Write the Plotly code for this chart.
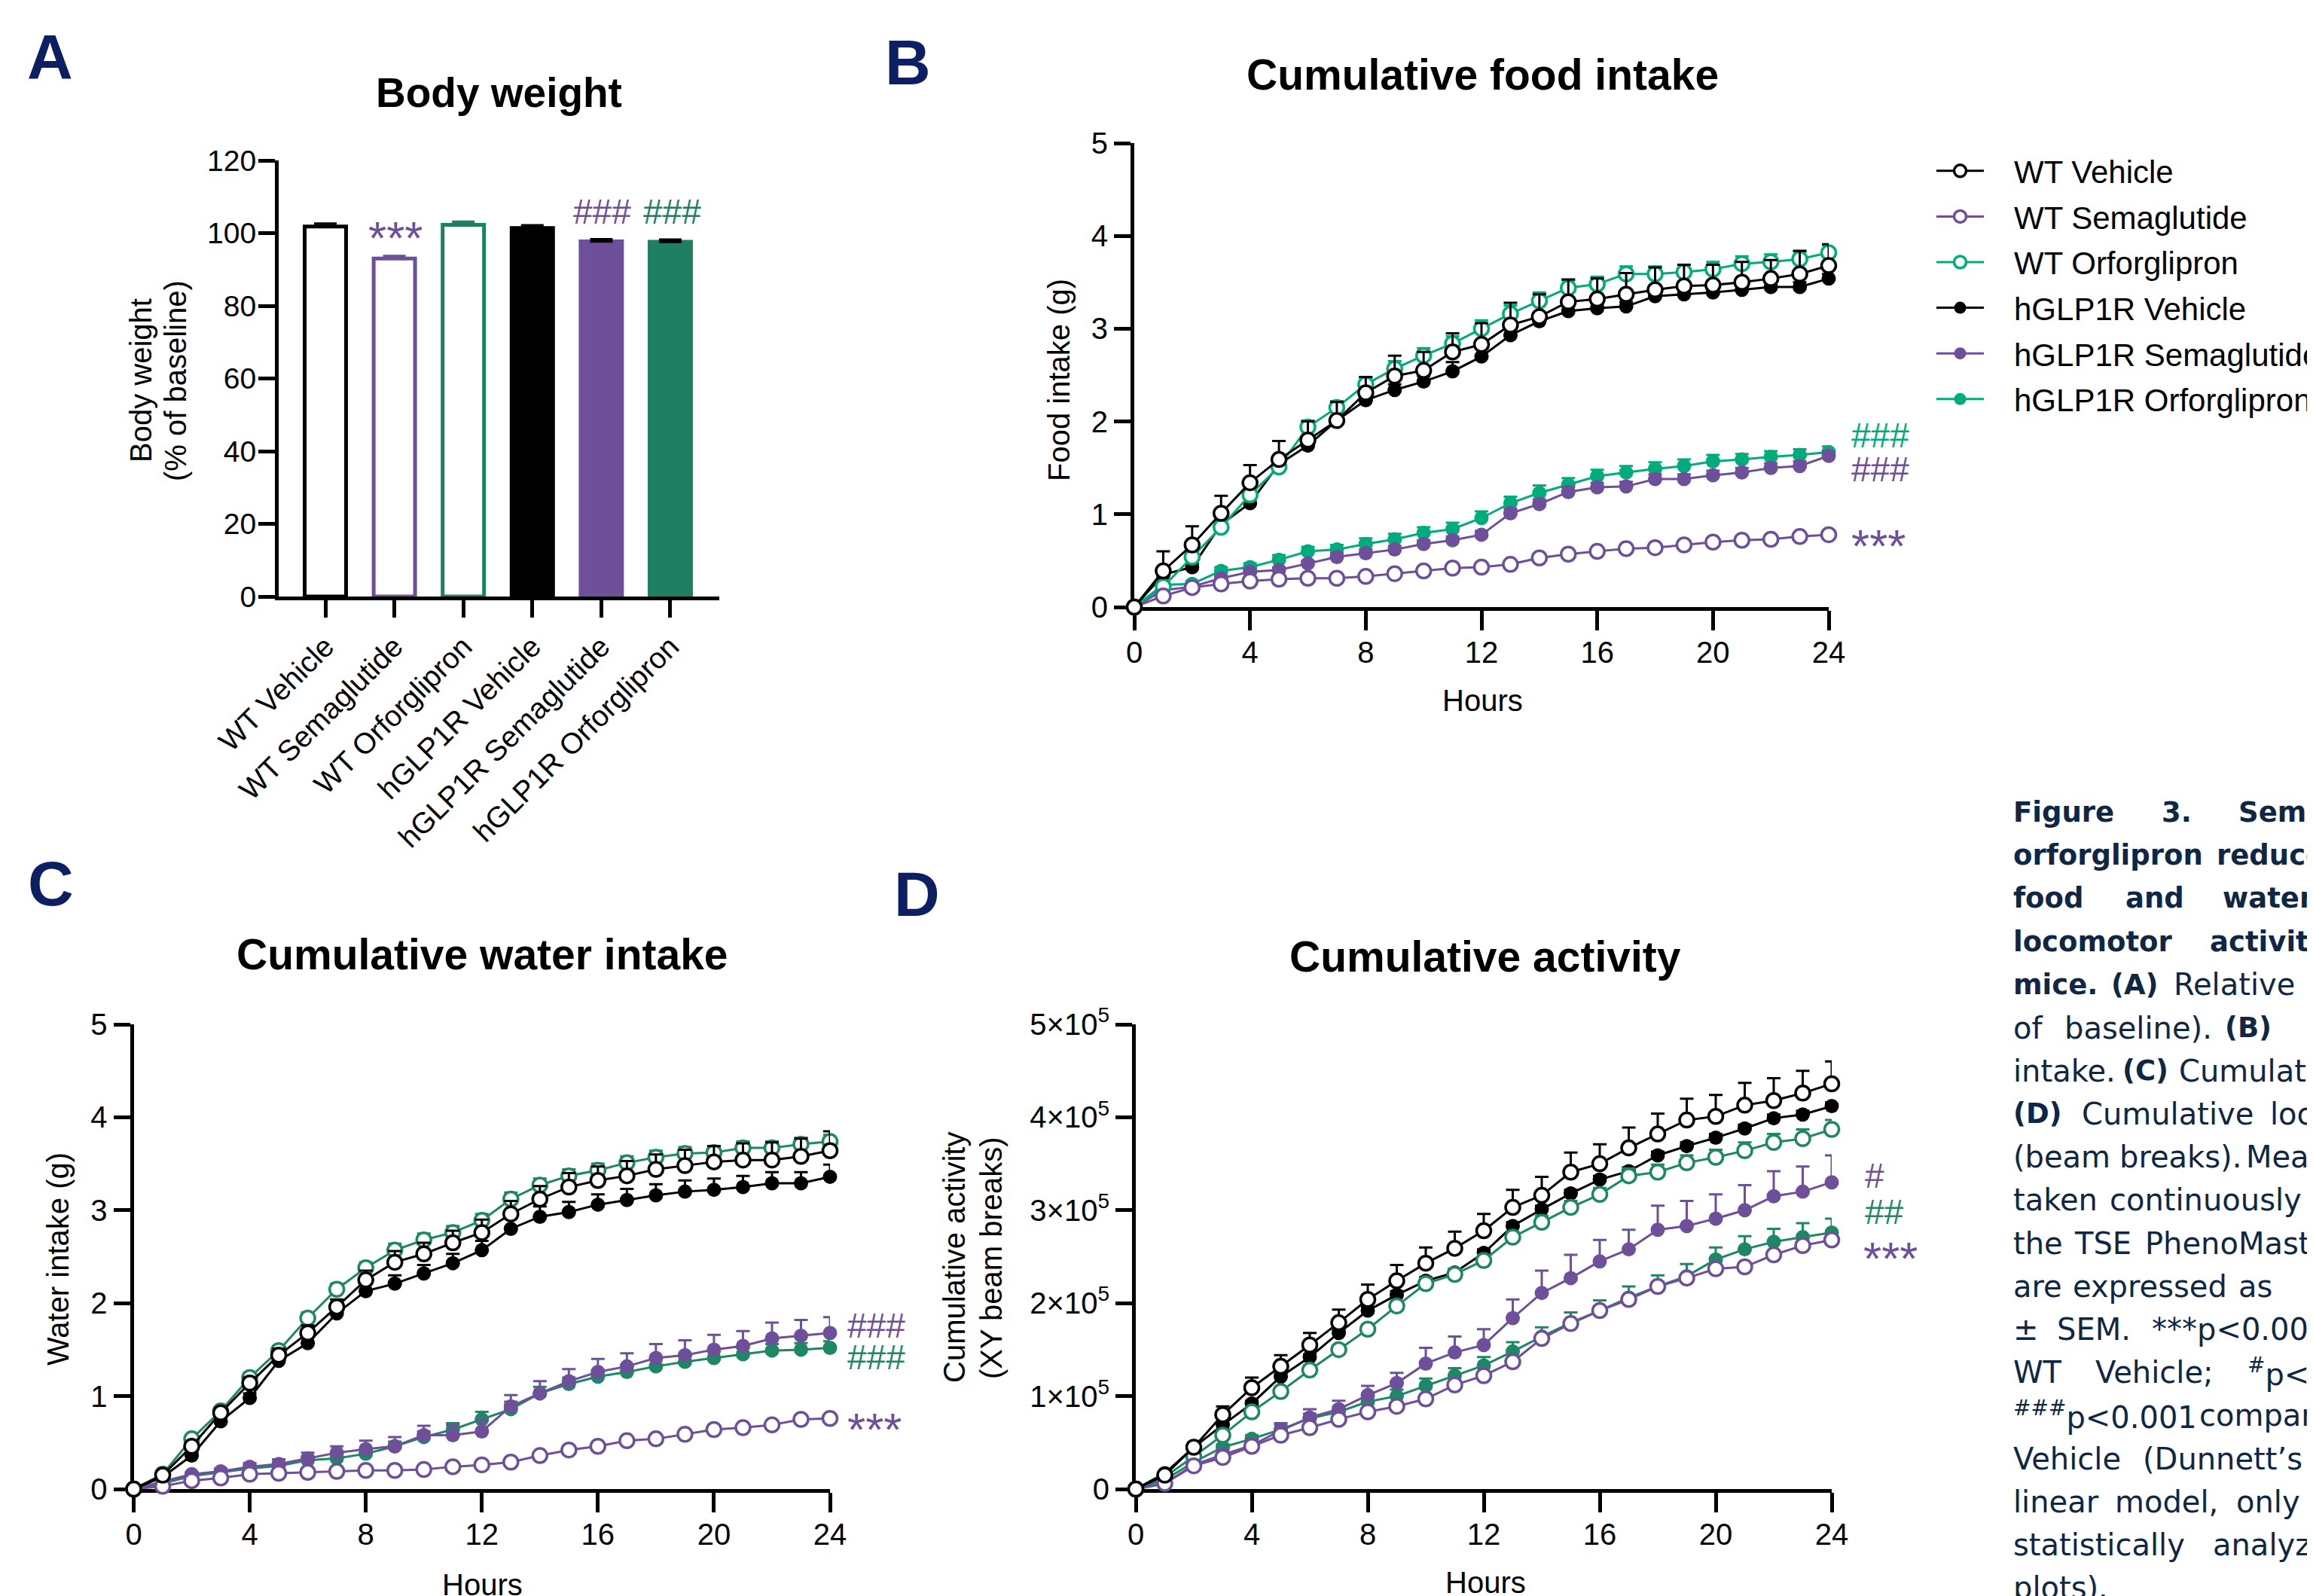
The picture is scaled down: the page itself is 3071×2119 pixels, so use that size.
import plotly.graph_objects as go

# The page body has an 8 px margin, so the figure is drawn 8 px in from the top-left
# corner of the window; positions below are in window pixels.
OFF = 8
WIN_W, WIN_H = 3071, 2119
W, H = WIN_W - OFF, WIN_H - OFF
def px(x): return (x - OFF) / W
def py(y): return 1 - (y - OFF) / H

# ---------------- DATA ----------------
groups = ["WT Vehicle", "WT Semaglutide", "WT Orforglipron",
          "hGLP1R Vehicle", "hGLP1R Semaglutide", "hGLP1R Orforglipron"]
hours = list(range(25))

# Panel A: body weight (% of baseline)
bw_mean = [101.8, 93.0, 102.3, 101.4, 97.7, 97.6]
bw_sem = [0.8, 0.7, 0.8, 0.7, 0.6, 0.6]

# Panel B: cumulative food intake (g)
food_mean = {
    "WT Vehicle": [0, 0.39, 0.67, 1.01, 1.34, 1.59, 1.80, 2.01, 2.31, 2.49, 2.55, 2.75, 2.83, 3.04, 3.13, 3.29, 3.32, 3.37, 3.42, 3.46, 3.47, 3.50, 3.54, 3.59, 3.68],
    "WT Semaglutide": [0, 0.12, 0.21, 0.25, 0.28, 0.30, 0.31, 0.31, 0.33, 0.36, 0.39, 0.42, 0.43, 0.46, 0.53, 0.57, 0.60, 0.63, 0.64, 0.67, 0.70, 0.72, 0.73, 0.76, 0.78],
    "WT Orforglipron": [0, 0.22, 0.54, 0.86, 1.21, 1.51, 1.94, 2.15, 2.40, 2.57, 2.71, 2.84, 3.00, 3.16, 3.30, 3.44, 3.48, 3.59, 3.59, 3.61, 3.64, 3.70, 3.72, 3.75, 3.82],
    "hGLP1R Vehicle": [0, 0.35, 0.43, 0.89, 1.12, 1.54, 1.74, 2.01, 2.23, 2.34, 2.43, 2.54, 2.70, 2.93, 3.08, 3.19, 3.22, 3.24, 3.35, 3.37, 3.39, 3.42, 3.45, 3.45, 3.54],
    "hGLP1R Semaglutide": [0, 0.18, 0.22, 0.31, 0.38, 0.40, 0.47, 0.54, 0.58, 0.62, 0.68, 0.72, 0.78, 1.01, 1.11, 1.24, 1.29, 1.30, 1.38, 1.38, 1.42, 1.45, 1.50, 1.52, 1.63],
    "hGLP1R Orforglipron": [0, 0.24, 0.25, 0.39, 0.43, 0.51, 0.60, 0.62, 0.68, 0.73, 0.80, 0.84, 0.96, 1.12, 1.23, 1.32, 1.41, 1.45, 1.49, 1.52, 1.57, 1.59, 1.62, 1.64, 1.67],
}
food_sem = {
    "WT Vehicle": [0, 0.21, 0.20, 0.19, 0.19, 0.20, 0.20, 0.20, 0.17, 0.22, 0.20, 0.20, 0.23, 0.24, 0.24, 0.24, 0.22, 0.23, 0.24, 0.23, 0.22, 0.22, 0.20, 0.25, 0.23],
    "WT Semaglutide": [0, 0.02, 0.02, 0.02, 0.02, 0.02, 0.02, 0.02, 0.02, 0.02, 0.02, 0.02, 0.02, 0.02, 0.03, 0.03, 0.03, 0.03, 0.03, 0.03, 0.03, 0.03, 0.03, 0.03, 0.03],
    "WT Orforglipron": [0, 0.04, 0.05, 0.05, 0.06, 0.06, 0.07, 0.07, 0.07, 0.08, 0.08, 0.08, 0.09, 0.09, 0.09, 0.08, 0.08, 0.08, 0.08, 0.08, 0.08, 0.08, 0.08, 0.08, 0.08],
    "hGLP1R Vehicle": [0, 0.03, 0.04, 0.05, 0.05, 0.05, 0.05, 0.05, 0.06, 0.06, 0.06, 0.10, 0.10, 0.06, 0.06, 0.05, 0.05, 0.05, 0.05, 0.05, 0.05, 0.05, 0.05, 0.05, 0.05],
    "hGLP1R Semaglutide": [0, 0.02, 0.02, 0.03, 0.03, 0.03, 0.03, 0.04, 0.04, 0.04, 0.04, 0.04, 0.04, 0.05, 0.05, 0.05, 0.05, 0.05, 0.05, 0.05, 0.05, 0.05, 0.05, 0.05, 0.05],
    "hGLP1R Orforglipron": [0, 0.02, 0.03, 0.04, 0.04, 0.05, 0.05, 0.05, 0.06, 0.06, 0.06, 0.07, 0.07, 0.07, 0.08, 0.07, 0.07, 0.07, 0.07, 0.07, 0.07, 0.06, 0.06, 0.06, 0.06],
}

# Panel C: cumulative water intake (g)
water_mean = {
    "WT Vehicle": [0, 0.15, 0.46, 0.82, 1.14, 1.44, 1.68, 1.96, 2.25, 2.44, 2.53, 2.65, 2.76, 2.96, 3.12, 3.25, 3.32, 3.37, 3.44, 3.48, 3.52, 3.54, 3.54, 3.58, 3.64],
    "WT Semaglutide": [0, 0.03, 0.09, 0.12, 0.16, 0.17, 0.18, 0.19, 0.20, 0.20, 0.21, 0.24, 0.26, 0.29, 0.36, 0.42, 0.46, 0.52, 0.54, 0.59, 0.64, 0.66, 0.69, 0.75, 0.76],
    "WT Orforglipron": [0, 0.16, 0.54, 0.84, 1.20, 1.49, 1.84, 2.15, 2.38, 2.57, 2.68, 2.76, 2.89, 3.12, 3.27, 3.37, 3.43, 3.51, 3.57, 3.61, 3.62, 3.67, 3.67, 3.71, 3.74],
    "hGLP1R Vehicle": [0, 0.13, 0.36, 0.73, 0.98, 1.38, 1.57, 1.89, 2.13, 2.21, 2.32, 2.43, 2.57, 2.80, 2.93, 2.98, 3.06, 3.11, 3.16, 3.20, 3.22, 3.25, 3.29, 3.29, 3.36],
    "hGLP1R Semaglutide": [0, 0.08, 0.16, 0.19, 0.24, 0.27, 0.33, 0.39, 0.43, 0.46, 0.58, 0.58, 0.62, 0.89, 1.03, 1.16, 1.26, 1.32, 1.41, 1.44, 1.50, 1.54, 1.62, 1.65, 1.68],
    "hGLP1R Orforglipron": [0, 0.06, 0.14, 0.18, 0.22, 0.25, 0.31, 0.33, 0.38, 0.46, 0.56, 0.64, 0.75, 0.86, 1.03, 1.13, 1.21, 1.26, 1.32, 1.37, 1.41, 1.45, 1.49, 1.50, 1.52],
}
water_sem = {
    "WT Vehicle": [0, 0.02, 0.04, 0.05, 0.06, 0.07, 0.08, 0.08, 0.10, 0.12, 0.12, 0.13, 0.14, 0.14, 0.14, 0.15, 0.15, 0.16, 0.16, 0.17, 0.17, 0.18, 0.19, 0.19, 0.21],
    "WT Semaglutide": [0, 0.01, 0.01, 0.02, 0.02, 0.02, 0.02, 0.02, 0.02, 0.02, 0.02, 0.02, 0.02, 0.02, 0.03, 0.03, 0.03, 0.03, 0.03, 0.03, 0.03, 0.03, 0.03, 0.03, 0.03],
    "WT Orforglipron": [0, 0.02, 0.03, 0.04, 0.05, 0.05, 0.06, 0.06, 0.06, 0.07, 0.07, 0.07, 0.07, 0.07, 0.07, 0.07, 0.07, 0.07, 0.07, 0.07, 0.07, 0.07, 0.07, 0.07, 0.07],
    "hGLP1R Vehicle": [0, 0.02, 0.03, 0.04, 0.05, 0.06, 0.07, 0.08, 0.09, 0.09, 0.09, 0.10, 0.10, 0.11, 0.11, 0.11, 0.11, 0.12, 0.12, 0.12, 0.12, 0.12, 0.12, 0.12, 0.13],
    "hGLP1R Semaglutide": [0, 0.01, 0.02, 0.03, 0.04, 0.05, 0.06, 0.07, 0.09, 0.10, 0.10, 0.11, 0.12, 0.12, 0.13, 0.13, 0.14, 0.14, 0.15, 0.16, 0.16, 0.16, 0.17, 0.17, 0.17],
    "hGLP1R Orforglipron": [0, 0.01, 0.02, 0.02, 0.03, 0.03, 0.04, 0.04, 0.05, 0.05, 0.06, 0.07, 0.08, 0.08, 0.07, 0.07, 0.07, 0.07, 0.07, 0.07, 0.07, 0.07, 0.07, 0.07, 0.07],
}

# Panel D: cumulative activity (XY beam breaks, in units of 1e5)
act_mean_e5 = {
    "WT Vehicle": [0, 0.15, 0.45, 0.80, 1.09, 1.32, 1.55, 1.79, 2.04, 2.24, 2.43, 2.59, 2.78, 3.03, 3.16, 3.41, 3.50, 3.67, 3.82, 3.97, 4.01, 4.13, 4.18, 4.26, 4.36],
    "WT Semaglutide": [0, 0.06, 0.25, 0.34, 0.46, 0.58, 0.66, 0.75, 0.83, 0.89, 0.97, 1.12, 1.22, 1.37, 1.62, 1.78, 1.92, 2.04, 2.18, 2.27, 2.37, 2.39, 2.52, 2.62, 2.68],
    "WT Orforglipron": [0, 0.13, 0.35, 0.58, 0.83, 1.05, 1.28, 1.50, 1.72, 1.97, 2.21, 2.31, 2.46, 2.71, 2.87, 3.03, 3.17, 3.37, 3.41, 3.51, 3.57, 3.64, 3.73, 3.77, 3.87],
    "hGLP1R Vehicle": [0, 0.17, 0.45, 0.69, 0.92, 1.21, 1.42, 1.68, 1.92, 2.09, 2.24, 2.33, 2.54, 2.83, 3.01, 3.18, 3.33, 3.42, 3.59, 3.69, 3.78, 3.88, 3.99, 4.03, 4.12],
    "hGLP1R Semaglutide": [0, 0.06, 0.26, 0.37, 0.47, 0.63, 0.77, 0.86, 1.01, 1.14, 1.35, 1.47, 1.55, 1.84, 2.11, 2.27, 2.45, 2.58, 2.79, 2.83, 2.91, 3.00, 3.15, 3.20, 3.30],
    "hGLP1R Orforglipron": [0, 0.10, 0.29, 0.45, 0.54, 0.64, 0.76, 0.83, 0.94, 1.00, 1.11, 1.22, 1.33, 1.48, 1.64, 1.79, 1.92, 2.06, 2.18, 2.29, 2.47, 2.58, 2.66, 2.71, 2.76],
}
act_sem_e5 = {
    "WT Vehicle": [0, 0.02, 0.05, 0.09, 0.11, 0.12, 0.13, 0.14, 0.16, 0.17, 0.17, 0.18, 0.18, 0.19, 0.20, 0.21, 0.21, 0.22, 0.22, 0.23, 0.23, 0.24, 0.24, 0.24, 0.24],
    "WT Semaglutide": [0, 0.01, 0.01, 0.02, 0.02, 0.02, 0.02, 0.03, 0.03, 0.03, 0.03, 0.03, 0.03, 0.03, 0.03, 0.03, 0.03, 0.03, 0.03, 0.03, 0.03, 0.03, 0.03, 0.03, 0.03],
    "WT Orforglipron": [0, 0.01, 0.02, 0.03, 0.04, 0.04, 0.05, 0.05, 0.05, 0.05, 0.06, 0.06, 0.06, 0.06, 0.07, 0.07, 0.07, 0.08, 0.08, 0.08, 0.08, 0.09, 0.09, 0.10, 0.10],
    "hGLP1R Vehicle": [0, 0.01, 0.02, 0.02, 0.03, 0.03, 0.03, 0.03, 0.04, 0.04, 0.04, 0.04, 0.04, 0.04, 0.04, 0.04, 0.04, 0.04, 0.04, 0.04, 0.04, 0.04, 0.04, 0.04, 0.04],
    "hGLP1R Semaglutide": [0, 0.01, 0.03, 0.05, 0.07, 0.08, 0.09, 0.09, 0.10, 0.11, 0.17, 0.17, 0.17, 0.20, 0.24, 0.25, 0.23, 0.21, 0.26, 0.27, 0.26, 0.27, 0.27, 0.27, 0.29],
    "hGLP1R Orforglipron": [0, 0.01, 0.02, 0.03, 0.04, 0.05, 0.05, 0.06, 0.06, 0.07, 0.08, 0.08, 0.09, 0.10, 0.10, 0.11, 0.11, 0.12, 0.12, 0.13, 0.13, 0.14, 0.14, 0.15, 0.15],
}

# Axis tick labels
bw_ticks = [0, 20, 40, 60, 80, 100, 120]
hour_ticks = [0, 4, 8, 12, 16, 20, 24]
g_ticks = [0, 1, 2, 3, 4, 5]
act_tickvals = [0, 1e5, 2e5, 3e5, 4e5, 5e5]
act_ticktext = ["0", "1×10<sup>5</sup>", "2×10<sup>5</sup>", "3×10<sup>5</sup>",
                "4×10<sup>5</sup>", "5×10<sup>5</sup>"]

# ---------------- STYLES ----------------
BLACK = "#000000"
PURPLE = "#6E4F9A"
GREEN_BAR = "#1E7F62"
GREEN_B = "#00AB7C"
GREEN_CD = "#1E8766"
NAVY = "#0D1F63"
CAPTION = "#0F2744"
FONT = "Liberation Sans, Arial, sans-serif"
NBSP = "\u00a0"

is_open = {g: g.startswith("WT") for g in groups}
def color_of(g, green):
    if "Vehicle" in g:
        return BLACK
    if "Semaglutide" in g:
        return PURPLE
    return green

fig = go.Figure()

# ---------------- PANEL A: bars ----------------
for i, g in enumerate(groups):
    c = color_of(g, GREEN_BAR)
    fill = "white" if is_open[g] else c
    err_c = c if is_open[g] else BLACK
    fig.add_trace(go.Bar(
        x=[g], y=[bw_mean[i]], width=0.6,
        marker=dict(color=fill, line=dict(color=c, width=5)),
        error_y=dict(type="data", array=[bw_sem[i]], arrayminus=[0], symmetric=False,
                     color=err_c, thickness=3.5, width=15),
        xaxis="x", yaxis="y", showlegend=False, hoverinfo="x+y"))

# ---------------- PANELS B, C, D: lines ----------------
def add_lines(means, sems, xa, ya, green, scale=1.0, legend=False):
    for g in reversed(groups):
        c = color_of(g, green)
        y = [v * scale for v in means[g]]
        e = [v * scale for v in sems[g]]
        if is_open[g]:
            mk = dict(size=19, color="white", line=dict(color=c, width=3.5))
        else:
            mk = dict(size=19, color=c, line=dict(color=c, width=0))
        fig.add_trace(go.Scatter(
            x=hours, y=y, mode="lines+markers", name=NBSP * 3 + g,
            line=dict(color=c, width=3), marker=mk,
            error_y=dict(type="data", array=e, arrayminus=[0] * len(e), symmetric=False,
                         color=c, thickness=3, width=9),
            cliponaxis=False, xaxis=xa, yaxis=ya, legendgroup=g,
            showlegend=legend, legendrank=groups.index(g) + 1))

add_lines(food_mean, food_sem, "x2", "y2", GREEN_B, legend=True)
add_lines(water_mean, water_sem, "x3", "y3", GREEN_CD)
add_lines(act_mean_e5, act_sem_e5, "x4", "y4", GREEN_CD, scale=1e5)

# ---------------- AXES ----------------
axis_common = dict(showline=True, linewidth=5, linecolor="black", ticks="outside",
                   tickwidth=5, tickcolor="black", showgrid=False, zeroline=False,
                   automargin=False,
                   tickfont=dict(family=FONT, size=40, color="black"), layer="below traces")

fig.update_layout(
    width=W, height=H, margin=dict(l=0, r=0, t=0, b=0, autoexpand=False),
    paper_bgcolor="white", plot_bgcolor="white", barmode="overlay",
    font=dict(family=FONT, color="black"),
    xaxis=dict(axis_common, domain=[px(370), px(955)], anchor="y", type="category",
               categoryorder="array", categoryarray=groups, range=[-0.677, 5.71],
               ticklen=23, tickangle=-45, tickfont=dict(family=FONT, size=39, color="black")),
    yaxis=dict(axis_common, domain=[py(792), py(213)], anchor="x", range=[0, 120],
               tickvals=bw_ticks, ticklen=22, ticklabelstandoff=-5,
               tickfont=dict(family=FONT, size=39, color="black")),
    xaxis2=dict(axis_common, domain=[px(1506), px(2428)], anchor="y2", range=[0, 24],
                tickvals=hour_ticks, ticklen=26, ticklabelstandoff=-5),
    yaxis2=dict(axis_common, domain=[py(806), py(190)], anchor="x2", range=[0, 5],
                tickvals=g_ticks, ticklen=22),
    xaxis3=dict(axis_common, domain=[px(177.5), px(1102)], anchor="y3", range=[0, 24],
                tickvals=hour_ticks, ticklen=26, ticklabelstandoff=-5),
    yaxis3=dict(axis_common, domain=[py(1977), py(1360)], anchor="x3", range=[0, 5],
                tickvals=g_ticks, ticklen=22),
    xaxis4=dict(axis_common, domain=[px(1508), px(2432)], anchor="y4", range=[0, 24],
                tickvals=hour_ticks, ticklen=26, ticklabelstandoff=-5),
    yaxis4=dict(axis_common, domain=[py(1977), py(1360)], anchor="x4", range=[0, 5e5],
                tickvals=act_tickvals, ticktext=act_ticktext, ticklen=22),
    legend=dict(x=px(2566), y=py(193), xanchor="left", yanchor="top",
                font=dict(family=FONT, size=42, color="black"), itemwidth=63,
                bgcolor="rgba(0,0,0,0)", traceorder="grouped", tracegroupgap=3,
                itemsizing="trace"),
)

# ---------------- TEXT ----------------
ann = []
def text(x, y, s, size=40, color="black", bold=False, angle=0, xanchor="center", family=FONT):
    ann.append(dict(x=px(x), y=py(y), xref="paper", yref="paper", text=s, showarrow=False,
                    xanchor=xanchor, yanchor="middle", textangle=angle,
                    font=dict(family=family, size=size, color=color,
                              weight="bold" if bold else "normal")))

# panel letters
for L, (x, y) in {"A": (66, 76), "B": (1205, 83), "C": (67, 1173), "D": (1217, 1187)}.items():
    text(x, y, L, size=84, color=NAVY, bold=True)

# titles
text(662, 123, "Body weight", size=55, bold=True)
text(1968, 99, "Cumulative food intake", size=57, bold=True)
text(640, 1267, "Cumulative water intake", size=57, bold=True)
text(1972, 1270, "Cumulative activity", size=57, bold=True)

# axis titles
text(187, 505, "Body weight", angle=-90)
text(233, 505, "(% of baseline)", angle=-90)
text(1406, 505, "Food intake (g)", angle=-90)
text(1968, 930, "Hours")
text(77, 1672, "Water intake (g)", angle=-90)
text(640, 2104, "Hours")
text(1267, 1670, "Cumulative activity", angle=-90)
text(1316, 1670, "(XY beam breaks)", angle=-90)
text(1972, 2101, "Hours")

# significance marks
STAR, HASH = 62, 46
text(525, 315, "***", size=STAR, color=PURPLE)
text(799, 281, "###", size=HASH, color=PURPLE)
text(893, 281, "###", size=HASH, color=GREEN_BAR)
text(2456, 578, "###", size=HASH, color=GREEN_B, xanchor="left")
text(2456, 623, "###", size=HASH, color=PURPLE, xanchor="left")
text(2456, 725, "***", size=STAR, color=PURPLE, xanchor="left")
text(1123, 1760, "###", size=HASH, color=PURPLE, xanchor="left")
text(1123, 1802, "###", size=HASH, color=GREEN_CD, xanchor="left")
text(1123, 1897, "***", size=STAR, color=PURPLE, xanchor="left")
text(2474, 1561, "#", size=HASH, color=PURPLE, xanchor="left")
text(2474, 1609, "##", size=HASH, color=GREEN_CD, xanchor="left")
text(2472, 1670, "***", size=STAR, color=PURPLE, xanchor="left")

# caption (justified, clipped at the right edge)
caption_lines = [
    [(2670.6, "Figure", 1), (2868.2, "3.", 1), (2970.4, "Semaglutide", 1)],
    [(2670.6, "orforglipron", 1), (2940.9, "reduced", 1)],
    [(2670.6, "food", 1), (2820.2, "and", 1), (2949.4, "water", 1)],
    [(2670.6, "locomotor", 1), (2931.9, "activity", 1)],
    [(2670.6, "mice.", 1), (2801.3, "(A)", 1), (2883.9, "Relative", 0)],
    [(2670.6, "of", 0), (2738.8, "baseline).", 0), (2951.5, "(B)", 1)],
    [(2670.6, "intake.", 0), (2815.7, "(C)", 1), (2890.8, "Cumulative", 0)],
    [(2670.6, "(D)", 1), (2762.2, "Cumulative", 0), (3011.5, "locomotor", 0)],
    [(2670.6, "(beam", 0), (2811.8, "breaks).", 0), (2980.0, "Measurements", 0)],
    [(2670.6, "taken", 0), (2798.9, "continuously", 0)],
    [(2670.6, "the", 0), (2751.7, "TSE", 0), (2846.3, "PhenoMaster", 0)],
    [(2670.6, "are", 0), (2750.2, "expressed", 0), (2970.1, "as", 0)],
    [(2670.6, "±", 0), (2729.2, "SEM.", 0), (2855.3, "***p<0.001", 0)],
    [(2670.6, "WT", 0), (2780.2, "Vehicle;", 0), (2981.5, "<sup>#</sup>p<0.05,", 0)],
    [(2670.6, "<sup>###</sup>p<0.001", 0), (2918.4, "compared", 0)],
    [(2670.6, "Vehicle", 0), (2843.3, "(Dunnett’s", 0)],
    [(2670.6, "linear", 0), (2805.8, "model,", 0), (2966.5, "only", 0)],
    [(2670.6, "statistically", 0), (2936.4, "analyzed", 0)],
    [(2670.6, "plots).", 0)],
]
for k, line in enumerate(caption_lines):
    yk = 1078.5 + 57.2 * k
    for (x, w, b) in line:
        text(x, yk, w, size=37 if b else 40, color=CAPTION, bold=bool(b), xanchor="left",
             family="DejaVu Sans, sans-serif")

fig.update_layout(annotations=ann)
fig.write_html("out.html")
